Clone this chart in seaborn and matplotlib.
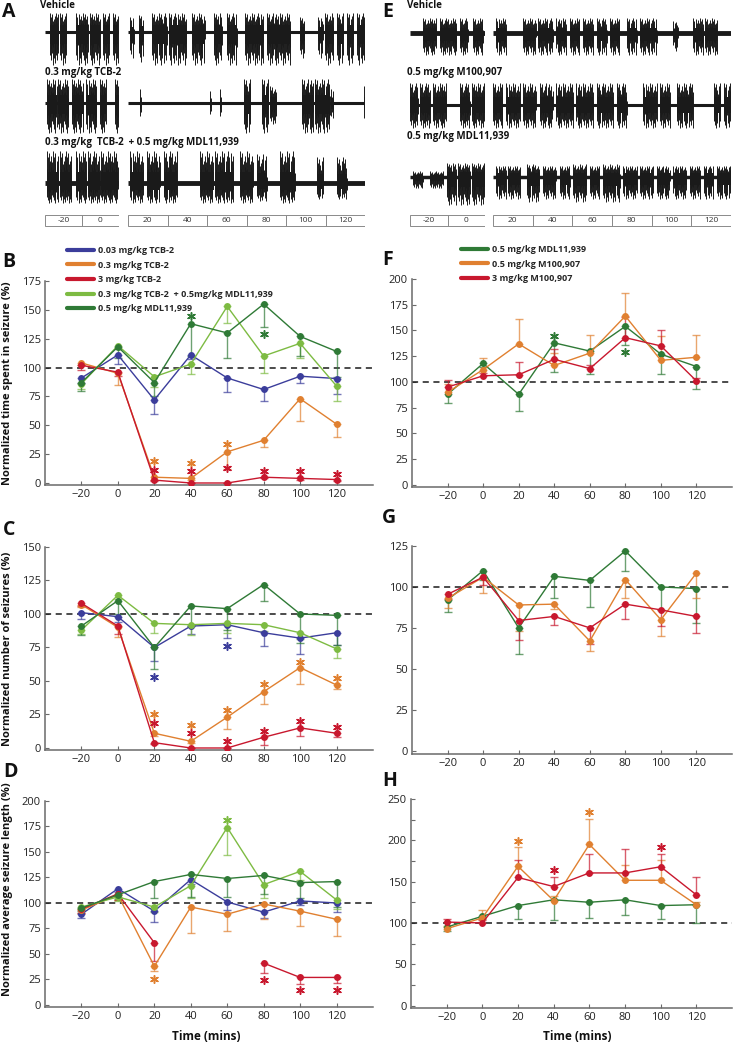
import numpy as np
import pandas as pd
import seaborn as sns
import matplotlib.pyplot as plt
from matplotlib.patches import Rectangle
from matplotlib.lines import Line2D

sns.set_theme(style='ticks')
plt.rcParams['font.family'] = ['Open Sans', 'DejaVu Sans']

W, H = 738, 1043
TIMES = [-20, 0, 20, 40, 60, 80, 100, 120]

# colours
C_BLUE = '#3b3d9b'
C_ORANGE = '#e08030'
C_RED = '#c8182e'
C_LGREEN = '#7dbb42'
C_DGREEN = '#2f7a36'

# group names
L_BLUE = '0.03 mg/kg TCB-2'
L_ORANGE = '0.3 mg/kg TCB-2'
L_RED = '3 mg/kg TCB-2'
L_LGREEN = '0.3 mg/kg TCB-2  + 0.5mg/kg MDL11,939'
L_DGREEN = '0.5 mg/kg MDL11,939'
R_DGREEN = '0.5 mg/kg MDL11,939 '
R_ORANGE = '0.5 mg/kg M100,907'
R_RED = '3 mg/kg M100,907'
LEFT_GROUPS = [L_BLUE, L_ORANGE, L_RED, L_LGREEN, L_DGREEN]
RIGHT_GROUPS = [R_DGREEN, R_ORANGE, R_RED]
COLORS = {L_BLUE: C_BLUE, L_ORANGE: C_ORANGE, L_RED: C_RED, L_LGREEN: C_LGREEN,
          L_DGREEN: C_DGREEN, R_DGREEN: C_DGREEN, R_ORANGE: C_ORANGE, R_RED: C_RED}

# ---- B: time spent in seizure (error bars drawn downwards)
B_BLUE = [91, 111, 72, 111, 91, 81, 92.5, 90.5]
B_BLUE_SEM = [4, 8, 12, 4, 12, 10, 6, 13]
B_ORANGE = [104, 95, 5, 4, 27, 37, 73, 51]
B_ORANGE_SEM = [2, 10, 2, 1, 15, 6, 19, 11]
B_RED = [102, 96, 2.5, 0, 0, 5, 4, 3]
B_RED_SEM = [4, 3, 1, 0, 0, 1, 1, 1]
B_LGREEN = [86, 119, 92, 103, 153, 110, 121, 84]
B_LGREEN_SEM = [5, 3, 9, 9, 14, 15, 13, 13]
B_DGREEN = [87, 118, 87, 138, 130, 155, 127, 114]
B_DGREEN_SEM = [7, 10, 12, 28, 22, 20, 17, 22]
B_STARS = [(L_DGREEN, 40, 145), (L_DGREEN, 80, 129), (L_ORANGE, 20, 19), (L_RED, 20, 11),
           (L_ORANGE, 40, 17), (L_RED, 40, 10), (L_ORANGE, 60, 34), (L_RED, 60, 13),
           (L_RED, 80, 10), (L_RED, 100, 10), (L_RED, 120, 8)]

# ---- C: number of seizures
C_BLUE_V = [101, 98, 75, 91, 92, 86, 82, 86]
C_BLUE_SEM = [5, 4, 10, 6, 10, 10, 12, 9]
C_ORANGE_V = [107, 90, 11, 5, 23, 42, 60, 47]
C_ORANGE_SEM = [2, 7, 2, 1, 9, 9, 12, 3]
C_RED_V = [108, 91, 4, 0, 0, 8, 15, 11]
C_RED_SEM = [2, 6, 1, 0, 0, 6, 6, 3]
C_LGREEN_V = [88, 114, 93, 92, 93, 92, 86, 74]
C_LGREEN_SEM = [3, 3, 7, 8, 7, 5, 5, 7]
C_DGREEN_V = [91, 110, 75, 106, 104, 122, 100, 99]
C_DGREEN_SEM = [7, 10, 16, 15, 16, 12, 22, 22]
C_STARS = [(L_BLUE, 20, 53), (L_BLUE, 60, 76), (L_ORANGE, 20, 25), (L_RED, 20, 18.5),
           (L_ORANGE, 40, 17), (L_RED, 40, 11), (L_ORANGE, 60, 28.5), (L_RED, 60, 5),
           (L_ORANGE, 80, 48), (L_RED, 80, 12.5), (L_ORANGE, 100, 64), (L_RED, 100, 20),
           (L_ORANGE, 120, 52.5), (L_RED, 120, 16)]

# ---- D: average seizure length
D_BLUE = [89, 114, 92, 123, 101, 91, 102, 100]
D_BLUE_SEM = [4, 3, 11, 4, 8, 6, 4, 9]
D_ORANGE = [93, 108, 38, 96, 89, 99, 92, 84]
D_ORANGE_SEM = [3, 5, 5, 25, 16, 15, 15, 16]
D_RED = [94, 109, 61, np.nan, np.nan, 41, 27, 27]
D_RED_SEM = [4, 6, 18, 0, 0, 10, 6, 5]
D_LGREEN = [96, 106, 96, 117, 174, 118, 131, 103]
D_LGREEN_SEM = [2, 4, 5, 12, 27, 13, 8, 9]
D_DGREEN = [95, 108, 121, 128, 124, 127, 120, 121]
D_DGREEN_SEM = [3, 4, 16, 22, 18, 18, 15, 25]
D_STARS = [(L_LGREEN, 60, 181), (L_ORANGE, 20, 25), (L_RED, 80, 24.5),
           (L_RED, 100, 15), (L_RED, 120, 15)]

# ---- F: time spent in seizure (M100,907)
F_DGREEN = [88, 118, 88, 138, 130, 154, 127, 115]
F_DGREEN_SEM = [8, 3, 16, 28, 22, 18, 19, 22]
F_ORANGE = [90, 112, 137, 116, 128, 164, 121, 124]
F_ORANGE_SEM = [8, 11, 24, 12, 18, 22, 24, 22]
F_RED = [95, 106, 107, 122, 113, 143, 135, 101]
F_RED_SEM = [7, 3, 12, 10, 3, 20, 15, 3]
F_STARS = [(R_DGREEN, 40, 145), (R_DGREEN, 80, 129)]

# ---- G: number of seizures (M100,907)
G_DGREEN = [92, 110, 75, 106.5, 104, 122, 100, 99]
G_DGREEN_SEM = [7, 6, 16, 13, 16, 12, 14, 21]
G_ORANGE = [93, 106, 89, 89.5, 67, 104.5, 80, 108.5]
G_ORANGE_SEM = [6, 10, 16, 3, 6, 11, 10, 15]
G_RED = [95.5, 106, 79.5, 82, 75, 89.5, 86, 82]
G_RED_SEM = [3, 5, 12, 5, 10, 9, 10, 10]

# ---- H: average seizure length (M100,907)
H_DGREEN = [95, 108, 121, 128, 125, 128, 121, 122]
H_DGREEN_SEM = [5, 3, 16, 24, 19, 19, 16, 22]
H_ORANGE = [93, 106, 168.5, 127, 195, 151.6, 151.6, 122]
H_ORANGE_SEM = [3, 10, 23, 5, 31, 18, 25, 3]
H_RED = [101, 100, 155, 144, 160.5, 160.5, 168, 134]
H_RED_SEM = [4, 3, 21, 12, 23, 29, 15, 21]
H_STARS = [(R_ORANGE, 20, 199), (R_ORANGE, 60, 234), (R_RED, 40, 164.5), (R_RED, 100, 192)]

# ---- EEG example traces: bursts as (start, end, relative amplitude) in minutes
BOX_LABELS_L = ['-20', '0']
BOX_LABELS_R = ['20', '40', '60', '80', '100', '120']

A_VEH_L = [(-27.3, -22.8, 1), (-21.9, -18.3, 1), (-13, -6.7, 1), (-5.8, -0.4, 1), (1.4, 5, 1), (6.8, 9.5, 1)]
A_VEH_R = [(11.2, 12.9, 0.8), (15.4, 17.9, 0.9), (22.1, 29.7, 1), (30.6, 39.8, 1), (42.4, 49.1, 1),
           (53.3, 57.5, 1), (60, 65.1, 1), (69.3, 78.6, 1), (80.3, 92.1, 1), (97.1, 99.6, 0.8),
           (106.4, 108.9, 0.8), (109.8, 114, 1), (115.6, 119, 1), (120.7, 124.1, 1), (125.8, 130, 1)]
A_TCB_L = [(-29.1, -23.7, 1), (-22.8, -17.4, 1), (-15.6, -9.4, 1), (-7.6, -2.2, 1), (-0.4, 3.2, 1), (7.7, 10, 1)]
A_TCB_R = [(16.1, 16.4, 0.6), (51.5, 51.8, 0.5), (56.6, 56.9, 0.6), (68.5, 71.9, 1), (77.7, 81.1, 1),
           (82, 85.3, 0.7), (98, 103.9, 1), (104.7, 112.3, 1), (113, 114, 0.6), (129.6, 130, 0.7)]
A_MIX_L = [(-29.1, -22.8, 1), (-21.9, -15.6, 1), (-13, -7.6, 1), (-6.7, -0.4, 1), (0.5, 9.5, 1)]
A_MIX_R = [(11.2, 17.9, 1), (19.6, 26.3, 1), (28, 34.8, 1), (46.6, 53.3, 1), (54.1, 63.4, 1),
           (66.8, 73.5, 1), (75.2, 80.3, 0.9), (87, 94.6, 1), (105.5, 108.9, 0.8), (115.6, 120.7, 0.8)]

E_VEH_L = [(-22.9, -15.8, 1), (-14, -5.1, 1), (-3.3, 1.1, 1), (3.8, 9.1, 1)]
E_VEH_R = [(11.7, 16.7, 1), (25.2, 31.9, 1), (32.7, 40.3, 1), (42, 47, 1), (48.8, 53.8, 1),
           (55.5, 60.6, 1), (62.2, 67.3, 1), (69, 74, 1), (77.4, 82.5, 1), (84.1, 92.6, 1),
           (101, 103.5, 0.8), (111, 116.2, 1), (117, 122.9, 1)]
E_M100_L = [(-30, -25.6, 1), (-24.7, -19.3, 1), (-17.6, -10.4, 1), (-3.3, 2, 1), (2.9, 10, 1)]
E_M100_R = [(10, 15, 1), (16.7, 23.5, 1), (25.2, 31.9, 1), (33.6, 40.3, 1), (42, 50.4, 1),
            (52.1, 60.6, 1), (62.2, 70.7, 1), (72.3, 77.4, 1), (85.8, 92.6, 1), (94.3, 99.3, 1),
            (102.7, 111, 1), (121.2, 124.6, 1), (126.3, 130, 1)]
E_MDL_L = [(-28.2, -22.9, 0.4), (-19.3, -12.2, 0.4), (-10.4, -5.1, 1), (-4.2, 2, 1), (2.9, 10, 1)]
E_MDL_R = [(11.7, 16.7, 0.8), (17.6, 23.5, 0.8), (26.9, 33.6, 0.9), (35.3, 42, 0.8), (43.7, 48.8, 0.8),
           (50.4, 57.2, 0.9), (58.9, 63.9, 0.8), (65.6, 74, 0.9), (75.7, 82.5, 0.8), (84.1, 90.9, 0.8),
           (92.6, 99.3, 0.8), (101, 107.7, 0.8), (109.4, 114.5, 0.8), (116.2, 121.2, 0.8), (122.9, 130, 0.8)]

SPIKE_PATTERN = np.array([1.0, 0.45, 0.8, 0.3, 0.95, 0.6, 0.2, 0.7, 0.5, 0.85, 0.4, 0.65])

fig = plt.figure(figsize=(W / 100, H / 100), dpi=100)


def px_axes(x0, x1, y0, y1):
    return fig.add_axes([x0 / W, 1 - y1 / H, (x1 - x0) / W, (y1 - y0) / H])


def ftext(x, y, s, **kw):
    fig.text(x / W, 1 - y / H, s, **kw)


def draw_traces(ax, rows, xlim, labels):
    # rows: list of (bursts, centre_y, up_px, down_px, baseline_lw)
    for bursts, yc, up, down, blw in rows:
        ax.plot(xlim, [yc, yc], color='k', lw=blw, solid_capstyle='butt')
        for s, e, a in bursts:
            ts = np.arange(s, e + 0.01, 0.28)
            n = len(ts)
            hu = np.resize(SPIKE_PATTERN, n) * up * a
            hd = np.resize(np.roll(SPIKE_PATTERN, 5), n) * down * a
            ax.vlines(ts, yc - hu, yc + hd, color='k', lw=0.7)
            # dense core of the burst
            ax.fill_between([s, e], yc - 0.35 * up * a, yc + 0.35 * down * a, color='k', lw=0)
    # time boxes
    edges = np.linspace(xlim[0], xlim[1], len(labels) + 1)
    for i, lab in enumerate(labels):
        ax.add_patch(Rectangle((edges[i], 215), edges[i + 1] - edges[i], 11,
                               fill=False, ec='#8a8a8a', lw=0.7))
        ax.text((edges[i] + edges[i + 1]) / 2, 220.5, lab, ha='center', va='center',
                fontsize=6, color='#333333')
    ax.set_xlim(xlim)
    ax.set_ylim(230, 0)
    ax.set_axis_off()


def line_panel(ax, series, stars, groups, ylim, yticks, minor=None):
    rows = []
    for name, vals, sems, sign in series:
        seg = 0
        gap = False
        for t, v in zip(TIMES, vals):
            if np.isnan(v):
                gap = True
                continue
            if gap:
                seg += 1
                gap = False
            rows.append({'time': t, 'value': v, 'group': name, 'seg': f'{name}-{seg}'})
        v = np.array(vals, dtype=float)
        s = np.array(sems, dtype=float)
        lo = s if sign < 0 else np.zeros_like(s)
        hi = s if sign > 0 else np.zeros_like(s)
        ax.errorbar(TIMES, v, yerr=[lo, hi], fmt='none', ecolor=COLORS[name],
                    elinewidth=1.0, capsize=2.6, capthick=1.0, alpha=0.7, zorder=2)
    df = pd.DataFrame(rows)
    present = [g for g in groups if g in set(df['group'])]
    sns.lineplot(data=df, x='time', y='value', hue='group', units='seg', estimator=None,
                 hue_order=present, palette=COLORS, marker='o', markersize=5,
                 markeredgewidth=0, linewidth=1.0, legend=False, ax=ax, zorder=3)
    for name, t, y in stars:
        ax.scatter([t], [y], marker=(6, 2, 0), s=30, color=COLORS[name], linewidths=1.1, zorder=4)
    ax.axhline(100, color='k', ls=(0, (4, 3)), lw=1.1, zorder=1)
    ax.set_xlim(-40, 140)
    ax.set_ylim(ylim)
    ax.set_xticks(TIMES)
    ax.set_yticks(yticks)
    if minor is not None:
        ax.set_yticks(minor, minor=True)
    sns.despine(ax=ax)
    for sp in ('left', 'bottom'):
        ax.spines[sp].set_color('#6a6a6a')
        ax.spines[sp].set_linewidth(1.1)
    ax.tick_params(axis='both', which='both', direction='in', length=3, width=0.8,
                   color='#6a6a6a', labelsize=8, labelcolor='#222222', pad=3)
    ax.set_xlabel('')
    ax.set_ylabel('')


# ---------------- panel A and E traces
axA_l = px_axes(45, 119, 0, 230)
axA_r = px_axes(128, 365, 0, 230)
draw_traces(axA_l, [(A_VEH_L, 32, 19, 33, 2.2), (A_TCB_L, 103, 24, 30, 2.2), (A_MIX_L, 183, 32, 20, 3.5)],
            (-30, 10), BOX_LABELS_L)
draw_traces(axA_r, [(A_VEH_R, 32, 19, 33, 2.2), (A_TCB_R, 103, 24, 30, 2.2), (A_MIX_R, 183, 32, 20, 3.5)],
            (10, 130), BOX_LABELS_R)
axE_l = px_axes(410, 485, 0, 230)
axE_r = px_axes(493, 731, 0, 230)
draw_traces(axE_l, [(E_VEH_L, 33, 15, 22, 3.5), (E_M100_L, 105, 22, 23, 2.2), (E_MDL_L, 177, 14, 28, 2.5)],
            (-30, 10), BOX_LABELS_L)
draw_traces(axE_r, [(E_VEH_R, 33, 15, 22, 3.5), (E_M100_R, 105, 22, 23, 2.2), (E_MDL_R, 177, 14, 28, 2.5)],
            (10, 130), BOX_LABELS_R)

bold = dict(fontweight='bold', fontsize=7, color='#111111', va='center', ha='left')
ftext(40, 6, 'Vehicle', **bold)
ftext(45, 73, '0.3 mg/kg TCB-2', **bold)
ftext(45, 143, '0.3 mg/kg  TCB-2  + 0.5 mg/kg MDL11,939', **bold)
ftext(407, 6, 'Vehicle', **bold)
ftext(407, 72, '0.5 mg/kg M100,907', **bold)
ftext(407, 137, '0.5 mg/kg MDL11,939', **bold)

# ---------------- line panels
axB = px_axes(45, 373, 281, 485.3)
line_panel(axB, [(L_BLUE, B_BLUE, B_BLUE_SEM, -1), (L_ORANGE, B_ORANGE, B_ORANGE_SEM, -1),
                 (L_RED, B_RED, B_RED_SEM, -1), (L_LGREEN, B_LGREEN, B_LGREEN_SEM, -1),
                 (L_DGREEN, B_DGREEN, B_DGREEN_SEM, -1)],
           B_STARS, LEFT_GROUPS, (-2, 175), range(0, 176, 25))
axC = px_axes(45, 373, 547, 750)
line_panel(axC, [(L_BLUE, C_BLUE_V, C_BLUE_SEM, -1), (L_ORANGE, C_ORANGE_V, C_ORANGE_SEM, -1),
                 (L_RED, C_RED_V, C_RED_SEM, -1), (L_LGREEN, C_LGREEN_V, C_LGREEN_SEM, -1),
                 (L_DGREEN, C_DGREEN_V, C_DGREEN_SEM, -1)],
           C_STARS, LEFT_GROUPS, (-1.5, 150), range(0, 151, 25))
axD = px_axes(45, 373, 801, 1007)
line_panel(axD, [(L_BLUE, D_BLUE, D_BLUE_SEM, -1), (L_ORANGE, D_ORANGE, D_ORANGE_SEM, -1),
                 (L_RED, D_RED, D_RED_SEM, -1), (L_LGREEN, D_LGREEN, D_LGREEN_SEM, -1),
                 (L_DGREEN, D_DGREEN, D_DGREEN_SEM, -1)],
           D_STARS, LEFT_GROUPS, (-2, 200), range(0, 201, 25))

axF = px_axes(412, 732, 279, 487)
line_panel(axF, [(R_DGREEN, F_DGREEN, F_DGREEN_SEM, -1), (R_ORANGE, F_ORANGE, F_ORANGE_SEM, 1),
                 (R_RED, F_RED, F_RED_SEM, 1)],
           F_STARS, RIGHT_GROUPS, (-2, 200), range(0, 201, 25))
axG = px_axes(412, 732, 546, 754)
line_panel(axG, [(R_DGREEN, G_DGREEN, G_DGREEN_SEM, -1), (R_ORANGE, G_ORANGE, G_ORANGE_SEM, -1),
                 (R_RED, G_RED, G_RED_SEM, -1)],
           [], RIGHT_GROUPS, (-2, 125), range(0, 126, 25))
axH = px_axes(411, 732, 799, 1008)
line_panel(axH, [(R_DGREEN, H_DGREEN, H_DGREEN_SEM, -1), (R_ORANGE, H_ORANGE, H_ORANGE_SEM, 1),
                 (R_RED, H_RED, H_RED_SEM, 1)],
           H_STARS, RIGHT_GROUPS, (-3, 250), range(0, 251, 50), minor=range(25, 250, 50))

# y labels
ylab = dict(fontweight='bold', fontsize=8, color='#111111')
axB.set_ylabel('Normalized time spent in seizure (%)', **ylab)
axB.yaxis.set_label_coords(-0.098, 0.5)
axC.set_ylabel('Normalized number of seizures (%)', **ylab)
axC.yaxis.set_label_coords(-0.098, 0.5)
axD.set_ylabel('Normalized average seizure length (%)', **ylab)
axD.yaxis.set_label_coords(-0.098, 0.57)
ftext(206, 1037, 'Time (mins)', fontweight='bold', fontsize=8.5, ha='center', va='center', color='#111111')
ftext(577, 1037, 'Time (mins)', fontweight='bold', fontsize=8.5, ha='center', va='center', color='#111111')

# legends
leg_kw = dict(frameon=False, handlelength=3.0, handletextpad=0.4,
              labelspacing=0.62, borderaxespad=0, borderpad=0, prop={'weight': 'bold', 'size': 6.5})
hl = [Line2D([], [], color=COLORS[g], lw=3) for g in LEFT_GROUPS]
fig.legend(hl, LEFT_GROUPS, loc='upper left', bbox_to_anchor=(67 / W, 1 - 246 / H), **leg_kw)
hr = [Line2D([], [], color=COLORS[g], lw=3) for g in RIGHT_GROUPS]
fig.legend(hr, [g.strip() for g in RIGHT_GROUPS], loc='upper left',
           bbox_to_anchor=(461 / W, 1 - 245 / H), **leg_kw)

# panel letters
letter = dict(fontweight='bold', fontsize=14, color='#111111', ha='left', va='top')
for x, y, s in [(2, 2, 'A'), (2, 252, 'B'), (3, 520, 'C'), (3, 762, 'D'),
                (382, 2, 'E'), (382, 250, 'F'), (382, 508, 'G'), (382, 771, 'H')]:
    ftext(x, y, s, **letter)

fig.savefig('out.png', dpi=100)
